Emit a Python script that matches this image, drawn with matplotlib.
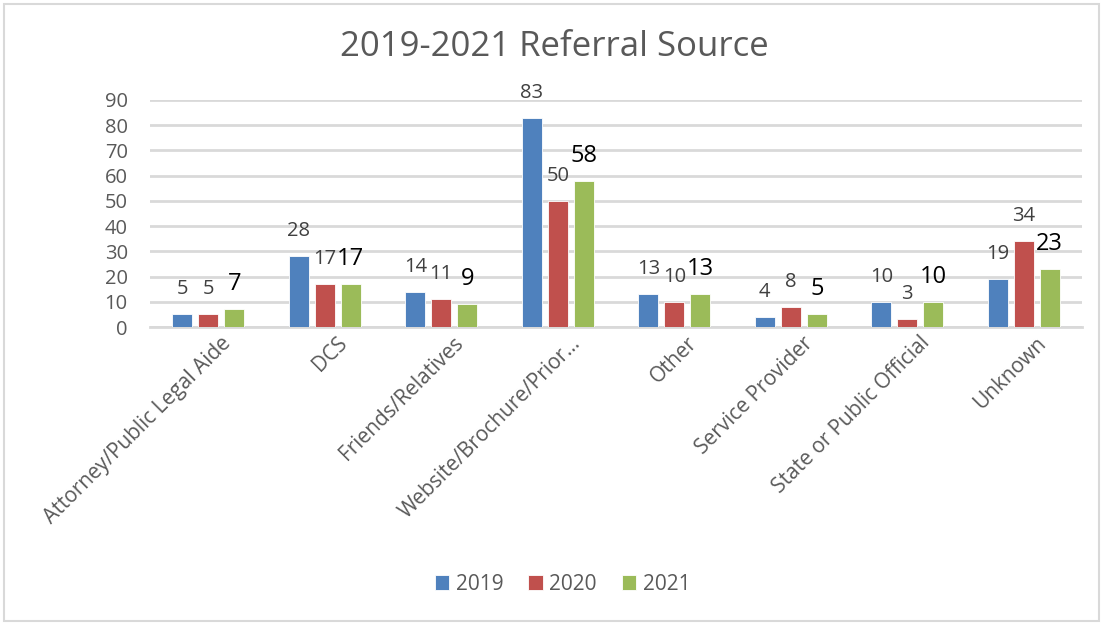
import matplotlib
matplotlib.use("Agg")
import matplotlib.pyplot as plt
import matplotlib.transforms as mtransforms
import numpy as np
from matplotlib.patches import Rectangle

categories = [
    "Attorney/Public Legal Aide", "DCS", "Friends/Relatives",
    "Website/Brochure/Prior…", "Other", "Service Provider",
    "State or Public Official", "Unknown",
]
years = ["2019", "2020", "2021"]
v2019 = [5, 28, 14, 83, 13, 4, 10, 19]
v2020 = [5, 17, 11, 50, 10, 8, 3, 34]
v2021 = [7, 17, 9, 58, 13, 5, 10, 23]
yticks = [0, 10, 20, 30, 40, 50, 60, 70, 80, 90]

colors = ["#4F81BD", "#C0504D", "#9BBB59"]
label_colors = ["#404040", "#404040", "#000000"]
label_sizes = [14.5, 14.5, 17]
text_gray = "#595959"

plt.rcParams["font.family"] = ["Open Sans", "DejaVu Sans"]

fig = plt.figure(figsize=(11.03, 6.23), dpi=100)
fig.patches.append(Rectangle((0.004, 0.004), 0.992, 0.99, transform=fig.transFigure,
                             fill=False, edgecolor="#d9d9d9", linewidth=1.5))
ax = fig.add_axes([0.136, 0.4751, 0.845, 0.3644])

x = np.arange(len(categories))
width = 0.172
step = 0.223
for i, (vals, yr) in enumerate(zip([v2019, v2020, v2021], years)):
    pos = x + (i - 1) * step
    ax.bar(pos, vals, width, color=colors[i], label=yr, zorder=3,
           edgecolor="white", linewidth=0.6)
    for px, v in zip(pos, vals):
        ax.annotate(str(v), (px, v), xytext=(0, 18), textcoords="offset points",
                    ha="center", va="center", fontsize=label_sizes[i],
                    color=label_colors[i], zorder=4)

ax.set_xlim(-0.5, len(categories) - 0.5)
ax.set_ylim(0, 90)
ax.set_yticks(yticks)
ax.yaxis.grid(True, color="#d9d9d9", linewidth=2, zorder=0)
ax.set_axisbelow(True)
for s in ["top", "right", "left"]:
    ax.spines[s].set_visible(False)
ax.spines["bottom"].set_color("#d9d9d9")
ax.spines["bottom"].set_linewidth(2)
ax.tick_params(axis="y", length=0, labelsize=14.5, colors=text_gray, pad=16)
ax.tick_params(axis="x", length=0, labelsize=15, colors=text_gray, pad=4)
ax.set_xticks(x)
ax.set_xticklabels(categories, rotation=45, ha="right", rotation_mode="anchor")
# nudge rotated labels to the right like the original
shift = mtransforms.ScaledTranslation(0.12, 0, fig.dpi_scale_trans)
for lbl in ax.get_xticklabels():
    lbl.set_transform(lbl.get_transform() + shift)

fig.text(0.503, 0.925, "2019-2021 Referral Source", ha="center", va="center",
         fontsize=25, color=text_gray)

fig.legend(loc="center", bbox_to_anchor=(0.51, 0.062), ncol=3, frameon=False,
           fontsize=15, handlelength=0.7, handleheight=0.7, columnspacing=1.2,
           handletextpad=0.3, labelcolor=text_gray)

fig.savefig("out.png", dpi=100)
